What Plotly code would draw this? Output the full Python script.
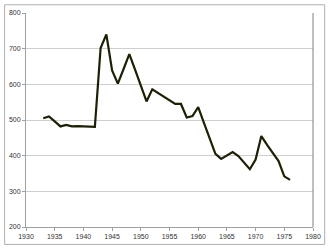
import plotly.graph_objects as go

years = list(range(1933, 1977))
values = [505, 510, 496, 482, 486, 482, 483, 482, 481, 481,
          702, 740, 639, 602, 643, 685, 641, 596, 552, 586,
          576, 566, 555, 545, 545, 507, 511, 536, 492, 449,
          405, 391, 400, 410, 399, 380, 362, 389, 455, 430,
          407, 385, 342, 332]

x_ticks = [1930, 1935, 1940, 1945, 1950, 1955, 1960, 1965, 1970, 1975, 1980]
y_ticks = [200, 300, 400, 500, 600, 700, 800]

fig = go.Figure()
fig.add_trace(go.Scatter(x=years, y=values, mode="lines",
                         line=dict(color="#1f1f05", width=2.2),
                         hoverinfo="skip", showlegend=False))

font = dict(family="Liberation Sans, Arial, sans-serif", size=7, color="#333333")
fig.update_layout(
    width=330, height=249,
    margin=dict(l=22, r=13, t=9, b=19),
    paper_bgcolor="white", plot_bgcolor="white",
    font=font,
    xaxis=dict(range=[1930, 1980], tickvals=x_ticks, ticktext=[str(v) for v in x_ticks],
               showgrid=False, zeroline=False, showline=True, linecolor="#a0a0a0",
               linewidth=1, ticks="outside", ticklen=3, tickcolor="#a0a0a0",
               tickfont=font, fixedrange=True),
    yaxis=dict(range=[200, 800], tickvals=y_ticks, ticktext=[str(v) for v in y_ticks],
               showgrid=True, gridcolor="#cfcfcf", gridwidth=1, zeroline=False,
               showline=True, linecolor="#a0a0a0", linewidth=1,
               ticks="outside", ticklen=3, tickcolor="#a0a0a0",
               tickfont=font, fixedrange=True),
    shapes=[
        dict(type="line", xref="paper", yref="paper", x0=1, x1=1, y0=0, y1=1,
             line=dict(color="#808080", width=1)),
        dict(type="rect", xref="paper", yref="paper", x0=-22/295, x1=1+12/295,
             y0=-18/221, y1=1+8.5/221, line=dict(color="#b0b0b0", width=1)),
    ],
)
fig.write_html("out.html")
